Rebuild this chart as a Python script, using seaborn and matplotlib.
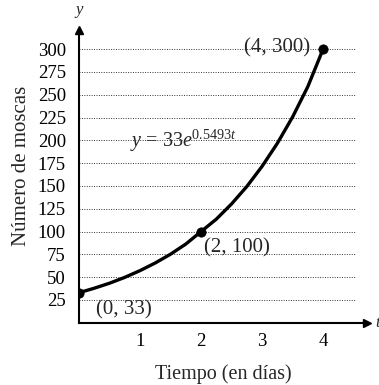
import matplotlib
matplotlib.use("Agg")
import matplotlib.pyplot as plt
import seaborn as sns
import pandas as pd

# curve (t in days, number of flies)
t_curve = [0, 0.25, 0.5, 0.75, 1, 1.25, 1.5, 1.75, 2, 2.25, 2.5, 2.75, 3, 3.25, 3.5, 3.75, 4]
y_curve = [33, 37.9, 43.4, 49.8, 57.2, 65.6, 75.2, 86.3, 100, 113.6, 130.3, 149.4, 171.5, 196.7, 225.6, 258.9, 300]

# labelled points
pt_t = [0, 2, 4]
pt_y = [33, 100, 300]
pt_labels = ["(0, 33)", "(2, 100)", "(4, 300)"]

x_ticks = [1, 2, 3, 4]
y_ticks = [25, 50, 75, 100, 125, 150, 175, 200, 225, 250, 275, 300]

sns.set_style("white")
plt.rcParams["font.family"] = ["Liberation Serif", "DejaVu Serif"]
plt.rcParams["mathtext.fontset"] = "custom"
plt.rcParams["mathtext.rm"] = "Liberation Serif"
plt.rcParams["mathtext.it"] = "Liberation Serif:italic"

curve = pd.DataFrame({"t": t_curve, "y": y_curve})
pts = pd.DataFrame({"t": pt_t, "y": pt_y})

fig = plt.figure(figsize=(3.79, 3.85), dpi=100)
ax = fig.add_axes([79 / 379, 1 - 322.8 / 385, 288 / 379, 292.8 / 385])

# dotted horizontal guide lines
ax.hlines(y_ticks, 0, 4.52, colors="#333333", linestyles=(0, (1, 1.5)), linewidth=0.7, zorder=1)

sns.lineplot(data=curve, x="t", y="y", color="black", linewidth=2.4, ax=ax, zorder=3)
sns.scatterplot(data=pts, x="t", y="y", color="black", s=45, edgecolor="black", ax=ax, zorder=4)

ax.set_xlim(0, 4.72)
ax.set_ylim(0, 321)
ax.set_xticks(x_ticks)
ax.set_yticks(y_ticks)
ax.tick_params(axis="both", direction="inout", length=11, width=1.3, labelsize=13.5, colors="black")
ax.tick_params(axis="y", pad=4)
ax.tick_params(axis="x", pad=2)

for s in ["top", "right"]:
    ax.spines[s].set_visible(False)
for s in ["left", "bottom"]:
    ax.spines[s].set_linewidth(1.5)
    ax.spines[s].set_color("black")

# axis arrows
ax.plot(1, 0, ">", color="black", markersize=6, transform=ax.get_yaxis_transform(), clip_on=False)
ax.plot(0, 1, "^", color="black", markersize=6, transform=ax.get_xaxis_transform(), clip_on=False)

ax.set_xlabel("Tiempo (en días)", fontsize=14.5, labelpad=10)
ax.set_ylabel("Número de moscas", fontsize=15)
ax.yaxis.set_label_coords(-0.168, 0.535)
ax.text(0, 1.04, "y", transform=ax.transAxes, fontsize=12, style="italic", ha="center", va="bottom")
ax.text(1.03, 0, "t", transform=ax.transAxes, fontsize=12, style="italic", ha="left", va="center")

ax.annotate(pt_labels[0], (pt_t[0], pt_y[0]), xytext=(12, -12), textcoords="offset points", fontsize=15, ha="left", va="center")
ax.annotate(pt_labels[1], (pt_t[1], pt_y[1]), xytext=(2, -12), textcoords="offset points", fontsize=15, ha="left", va="center")
ax.annotate(pt_labels[2], (pt_t[2], pt_y[2]), xytext=(-9, 1), textcoords="offset points", fontsize=15, ha="right", va="center")
ax.text(0.84, 193, r"$y$ = 33$e^{0.5493t}$", fontsize=14.5, ha="left", va="baseline")

ax.set_facecolor("white")
fig.savefig("out.png", dpi=100, facecolor="white")
